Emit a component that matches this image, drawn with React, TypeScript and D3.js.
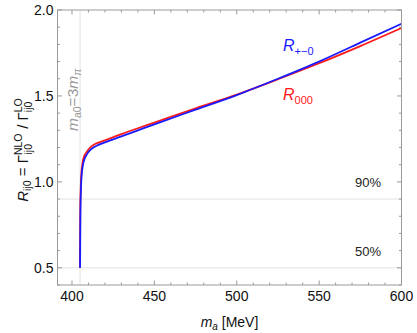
import React from 'react';
import * as d3 from 'd3';

// m_a in MeV and the NLO/LO ratio for the two channels
const massCharged = [404.9, 405.1, 405.4, 405.8, 406.5, 407.5, 409, 411, 413, 416, 420, 430, 440, 450, 475, 500, 525, 550, 575, 600];
const ratioCharged = [0.5, 0.8, 0.95, 1.03, 1.09, 1.13, 1.16, 1.185, 1.2, 1.215, 1.23, 1.265, 1.3, 1.335, 1.42, 1.505, 1.6, 1.7, 1.81, 1.92];
const massNeutral = [404.8, 405.0, 405.3, 405.7, 406.4, 407.4, 409, 411, 413, 416, 420, 430, 440, 450, 475, 500, 525, 550, 575, 600];
const ratioNeutral = [0.5, 0.82, 0.97, 1.05, 1.11, 1.15, 1.175, 1.2, 1.215, 1.228, 1.242, 1.278, 1.312, 1.345, 1.428, 1.508, 1.597, 1.69, 1.79, 1.895];

const xTicks = [400, 450, 500, 550, 600];
const yTicks = [0.5, 1.0, 1.5, 2.0];
const threshold = 404.9; // 3 m_pi
const refLevels = [0.9, 0.5];
const refLabels = ['90%', '50%'];

const width = 417;
const height = 333;
const left = 57.5, right = 401.5, top = 10, bottom = 285;
const frame = '#999';
const font = '"Liberation Sans", Arial, sans-serif';

export default function App() {
  const x = d3.scaleLinear().domain([391.2, 600]).range([left, right]);
  const y = d3.scaleLinear().domain([0.4, 2.0]).range([bottom, top]);

  const line = d3.line<[number, number]>()
    .x(d => x(d[0]))
    .y(d => y(d[1]))
    .curve(d3.curveMonotoneX);

  const charged = massCharged.map((m, i) => [m, ratioCharged[i]] as [number, number]);
  const neutral = massNeutral.map((m, i) => [m, ratioNeutral[i]] as [number, number]);

  const xMinor = d3.range(400, 601, 10);
  const yMinor = d3.range(0.4, 2.001, 0.1);

  return (
    <svg width={width} height={height} style={{ position: 'absolute', left: 0, top: 0 }} fontFamily={font}>
      <rect width={width} height={height} fill="#fff" />

      {/* reference lines */}
      {refLevels.map(v => (
        <line key={v} x1={left} x2={right} y1={y(v)} y2={y(v)} stroke="#e2e2e2" strokeWidth={1} />
      ))}
      <line x1={x(threshold)} x2={x(threshold)} y1={top} y2={bottom} stroke="#e2e2e2" strokeWidth={1} />

      {refLabels.map((t, i) => (
        <text key={t} x={368} y={y(refLevels[i]) - 12} fontSize={13} textAnchor="middle" fill="#222">{t}</text>
      ))}

      {/* threshold annotation */}
      <text transform={`translate(77.5,131) rotate(-90)`} fontSize={15.5} fill="#999">
        <tspan fontStyle="italic">m</tspan>
        <tspan fontSize={10.5} dy={3}>a0</tspan>
        <tspan dy={-3}>=3</tspan>
        <tspan fontStyle="italic">m</tspan>
        <tspan fontSize={10.5} dy={3} fontStyle="italic">π</tspan>
      </text>

      {/* curves */}
      <path d={line(neutral) ?? ''} fill="none" stroke="#ff1a1a" strokeWidth={1.8} />
      <path d={line(charged) ?? ''} fill="none" stroke="#1a1aff" strokeWidth={1.8} />

      {/* curve labels */}
      <text x={283} y={51} fontSize={16} fill="#1a1aff">
        <tspan fontStyle="italic">R</tspan>
        <tspan fontSize={11} dy={4}>+−0</tspan>
      </text>
      <text x={283} y={100} fontSize={16} fill="#ff1a1a">
        <tspan fontStyle="italic">R</tspan>
        <tspan fontSize={11} dy={4}>000</tspan>
      </text>

      {/* frame */}
      <rect x={left} y={top} width={right - left} height={bottom - top} fill="none" stroke={frame} strokeWidth={1} />

      {xMinor.map(v => {
        const len = v % 50 === 0 ? 4.5 : 2.5;
        return (
          <g key={'x' + v}>
            <line x1={x(v)} x2={x(v)} y1={bottom} y2={bottom - len} stroke={frame} />
            <line x1={x(v)} x2={x(v)} y1={top} y2={top + len} stroke={frame} />
          </g>
        );
      })}
      {yMinor.map((v, i) => {
        const major = Math.abs(v * 2 - Math.round(v * 2)) < 1e-6;
        const len = major ? 4.5 : 2.5;
        return (
          <g key={'y' + i}>
            <line x1={left} x2={left + len} y1={y(v)} y2={y(v)} stroke={frame} />
            <line x1={right} x2={right - len} y1={y(v)} y2={y(v)} stroke={frame} />
          </g>
        );
      })}

      {xTicks.map(v => (
        <text key={'xl' + v} x={x(v)} y={bottom + 16} fontSize={14} textAnchor="middle" fill="#111">{v}</text>
      ))}
      {yTicks.map(v => (
        <text key={'yl' + v} x={left - 4} y={y(v) + 5} fontSize={14} textAnchor="end" fill="#111">{v.toFixed(1)}</text>
      ))}

      {/* axis titles */}
      <text x={(left + right) / 2} y={327} fontSize={14} textAnchor="middle" fill="#111">
        <tspan fontStyle="italic">m</tspan>
        <tspan fontSize={10} dy={3} fontStyle="italic">a</tspan>
        <tspan dy={-3}> [MeV]</tspan>
      </text>

      <text transform={`translate(28,150) rotate(-90)`} fontSize={15} textAnchor="middle" fill="#111">
        <tspan fontStyle="italic">R</tspan>
        <tspan fontSize={10.5} dy={3}>ij0</tspan>
        <tspan dy={-3}> = Γ</tspan>
        <tspan fontSize={10.5} dy={-6}>NLO</tspan>
        <tspan fontSize={10.5} dx={-21} dy={10}>ij0</tspan>
        <tspan dx={11} dy={-4}> / Γ</tspan>
        <tspan fontSize={10.5} dy={-6}>LO</tspan>
        <tspan fontSize={10.5} dx={-14} dy={10}>ij0</tspan>
      </text>
    </svg>
  );
}
